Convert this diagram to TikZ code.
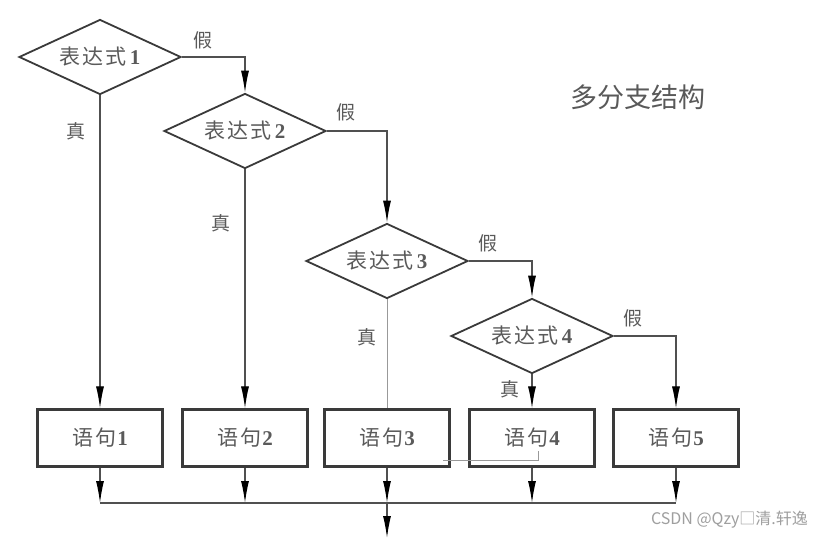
\documentclass[tikz,border=0pt]{standalone}
\usepackage{fontspec}
\setmainfont{Liberation Serif}
\newfontfamily\cjk{Noto Sans CJK SC}
\usetikzlibrary{shapes.geometric,arrows.meta}
\definecolor{linec}{HTML}{3A3A3A}
\definecolor{linec2}{HTML}{505050}
\definecolor{txtc}{HTML}{5A5A5A}
\newcommand{\dtext}[1]{{\cjk 表\hspace{2pt}达\hspace{2pt}式}\hspace{3pt}\textbf{#1}}
\newcommand{\btext}[1]{{\cjk 语\hspace{2pt}句}\hspace{1pt}\textbf{#1}}
\tikzset{
  dia/.style={diamond, draw=linec, line width=1.8pt, minimum width=162pt, minimum height=75pt,
    inner sep=0pt, aspect=2.2, text=txtc, font=\fontsize{21}{21}\selectfont},
  stmt/.style={rectangle, draw=linec, line width=2.2pt, minimum width=125pt, minimum height=57pt,
    inner sep=0pt, text=txtc, font=\fontsize{21}{21}\selectfont},
  conn/.style={line width=1.2pt, draw=linec2},
  arr/.style={conn, -{Latex[length=22pt,width=8pt,color=black]}},
  lab/.style={text=txtc, font=\cjk\fontsize{19}{19}\selectfont, inner sep=0pt},
}
\begin{document}
\begin{tikzpicture}[x=1pt,y=-1pt]
\fill[white] (0,0) rectangle (823,540);
\useasboundingbox (0,0) rectangle (823,540);

\node[dia] (d1) at (100,57) {\dtext{1}};
\node[dia] (d2) at (245,131) {\dtext{2}};
\node[dia] (d3) at (387,261) {\dtext{3}};
\node[dia] (d4) at (532,336) {\dtext{4}};

\node[stmt] (b1) at (100,438) {\btext{1}};
\node[stmt] (b2) at (245,438) {\btext{2}};
\node[stmt] (b3) at (387,438) {\btext{3}};
\node[stmt] (b4) at (532,438) {\btext{4}};
\node[stmt] (b5) at (676,438) {\btext{5}};

\coordinate (busL) at (100,503);
\coordinate (busR) at (676,503);
\coordinate (out) at (387,538);

% false branches
\draw[arr] (d1.east) -| (d2.north);
\draw[arr] (d2.east) -| (d3.north);
\draw[arr] (d3.east) -| (d4.north);
\draw[arr] (d4.east) -| (b5.north);
% true branches
\draw[arr] (d1.south) -- (b1.north);
\draw[arr] (d2.south) -- (b2.north);
\draw[conn, line width=0.9pt, draw=gray!80] (d3.south) -- (b3.north);
\draw[arr] (d4.south) -- (b4.north);

% labels
\node[lab] (f1) at (203,40) {假};
\node[lab] (f2) at (346,112) {假};
\node[lab] (f3) at (488,243) {假};
\node[lab] (f4) at (633,318) {假};
\node[lab] (t1) at (76,131) {真};
\node[lab] (t2) at (221,223) {真};
\node[lab] (t3) at (367,337) {真};
\node[lab] (t4) at (510,389) {真};

% outputs
\foreach \b in {b1,b2,b3,b4,b5}{
  \draw[arr] (\b.south) -- (\b.south |- busL);
}
\draw[conn] (busL) -- (busR);
\draw[arr] (b3.south |- busL) -- (out);

% stray stroke
\coordinate (s1) at (443,460);
\coordinate (s2) at (538,460);
\coordinate (s3) at (538,451);
\draw[line width=0.9pt, draw=gray!80] (s1) -- (s2) -- (s3);

% title
\node[text=gray!70!black, font=\cjk\fontsize{27}{27}\selectfont] (title) at (638,97) {多分支结构};

% watermark
\node[anchor=east, text=gray!75, font=\cjk\fontsize{16}{16}\selectfont, inner sep=0pt] (wm) at (808,520) {CSDN @Qzy□清.轩逸};
\end{tikzpicture}
\end{document}
